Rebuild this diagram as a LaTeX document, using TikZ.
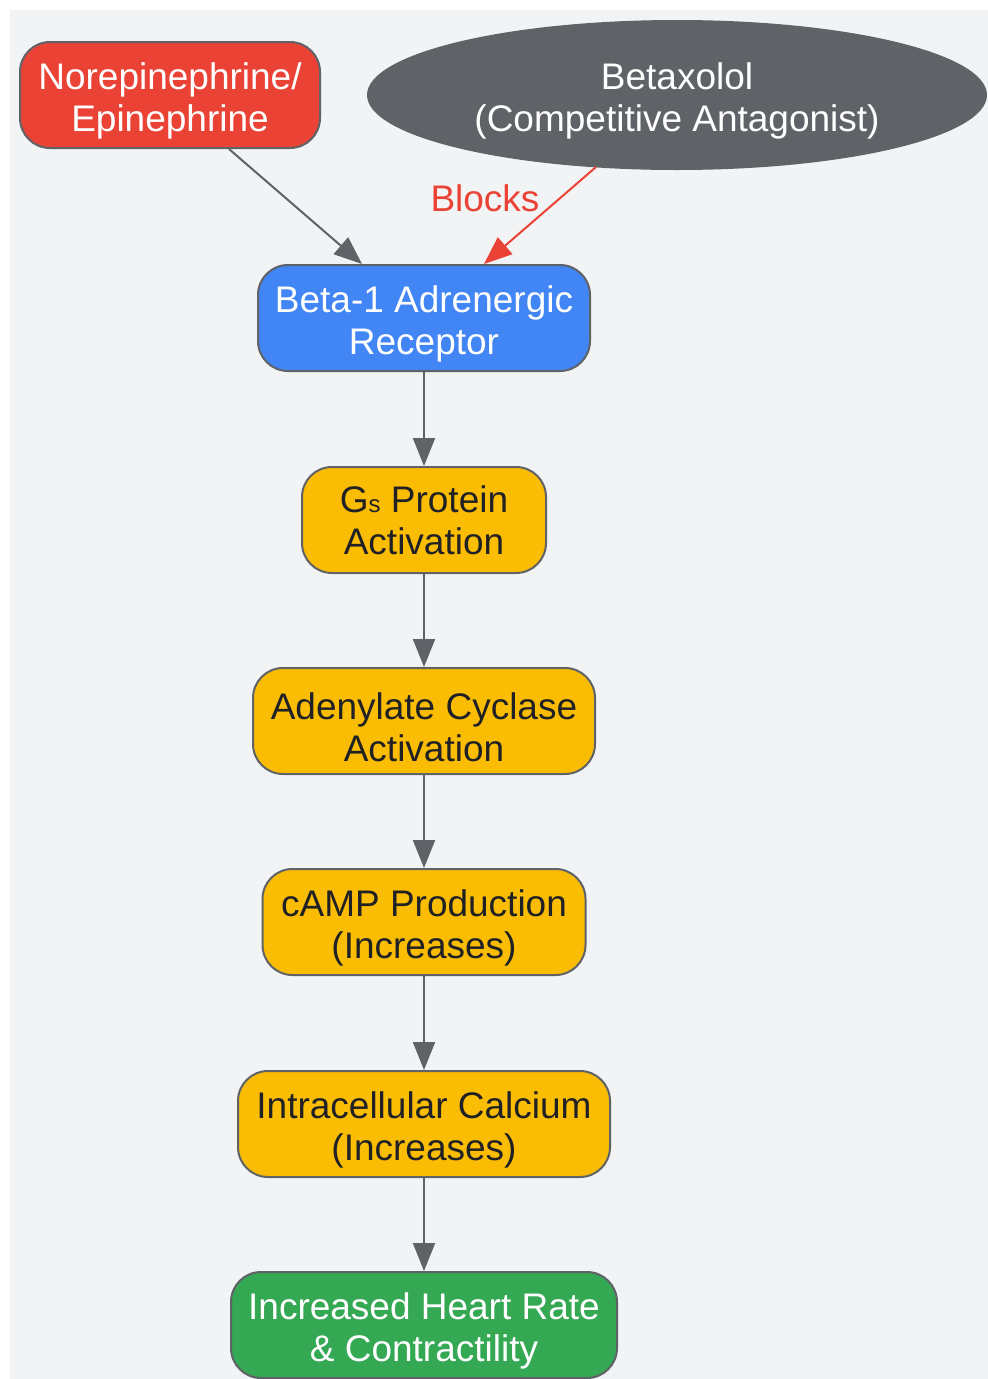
\documentclass[tikz,border=0pt]{standalone}
\usepackage{fontspec}
\setmainfont{Liberation Sans}
\usetikzlibrary{arrows.meta,shapes.geometric,calc}
\definecolor{bgc}{HTML}{F1F3F4}
\definecolor{edgec}{HTML}{5F6368}
\definecolor{redc}{HTML}{EA4335}
\definecolor{bluec}{HTML}{4285F4}
\definecolor{yelc}{HTML}{FBBC04}
\definecolor{greenc}{HTML}{34A853}
\definecolor{darkt}{HTML}{202124}
\newcommand{\lowstrut}{\rule{0pt}{39.5pt}}
\tikzset{
  box/.style={draw=edgec, line width=2pt, rounded corners=30pt, align=center,
    font=\fontsize{37}{42}\selectfont, inner sep=0pt, minimum height=106pt},
  redbox/.style={box, fill=redc, text=white},
  bluebox/.style={box, fill=bluec, text=white},
  yelbox/.style={box, fill=yelc, text=darkt},
  greenbox/.style={box, fill=greenc, text=white},
  antag/.style={ellipse, fill=edgec, draw=none, text=white, align=center,
    font=\fontsize{37}{42}\selectfont, inner sep=0pt, minimum width=620pt, minimum height=150pt},
  flow/.style={draw=edgec, line width=2pt, -{Triangle[length=28pt,width=22pt]}},
  blockflow/.style={draw=redc, line width=2pt, -{Triangle[length=28pt,width=22pt]}},
}
\begin{document}
\begin{tikzpicture}[x=1pt,y=-1pt]
\useasboundingbox (0,0) rectangle (988,1379);
\fill[bgc] (10,10) rectangle (988,1379);
\node[redbox, minimum width=300pt] (ne) at (170,95) {\lowstrut Norepinephrine/\\Epinephrine};
\node[antag] (bx) at (677,95) {\lowstrut Betaxolol\\(Competitive Antagonist)};
\node[bluebox, minimum width=332pt] (b1) at (424,318) {\lowstrut Beta-1 Adrenergic\\Receptor};
\node[yelbox, minimum width=244pt] (gs) at (424,520) {G{\fontsize{24}{42}\selectfont s} Protein\\Activation};
\node[yelbox, minimum width=342pt] (ac) at (424,721) {\lowstrut Adenylate Cyclase\\Activation};
\node[yelbox, minimum width=323pt] (camp) at (424,922) {\lowstrut cAMP Production\\(Increases)};
\node[yelbox, minimum width=372pt] (ca) at (424,1124) {\lowstrut Intracellular Calcium\\(Increases)};
\node[greenbox, minimum width=386pt] (hr) at (424,1325) {\lowstrut Increased Heart Rate\\\& Contractility};
\draw[flow] ($(ne.south)+(59,0)$) -- ($(b1.north)+(-62,0)$);
\draw[blockflow] ($(bx.center)+(-81,72)$) -- ($(b1.north)+(60,0)$);
\node[text=redc, font=\fontsize{37}{42}\selectfont] (blk) at (485,198) {Blocks};
\draw[flow] (b1) -- (gs);
\draw[flow] (gs) -- (ac);
\draw[flow] (ac) -- (camp);
\draw[flow] (camp) -- (ca);
\draw[flow] (ca) -- (hr);
\end{tikzpicture}
\end{document}
